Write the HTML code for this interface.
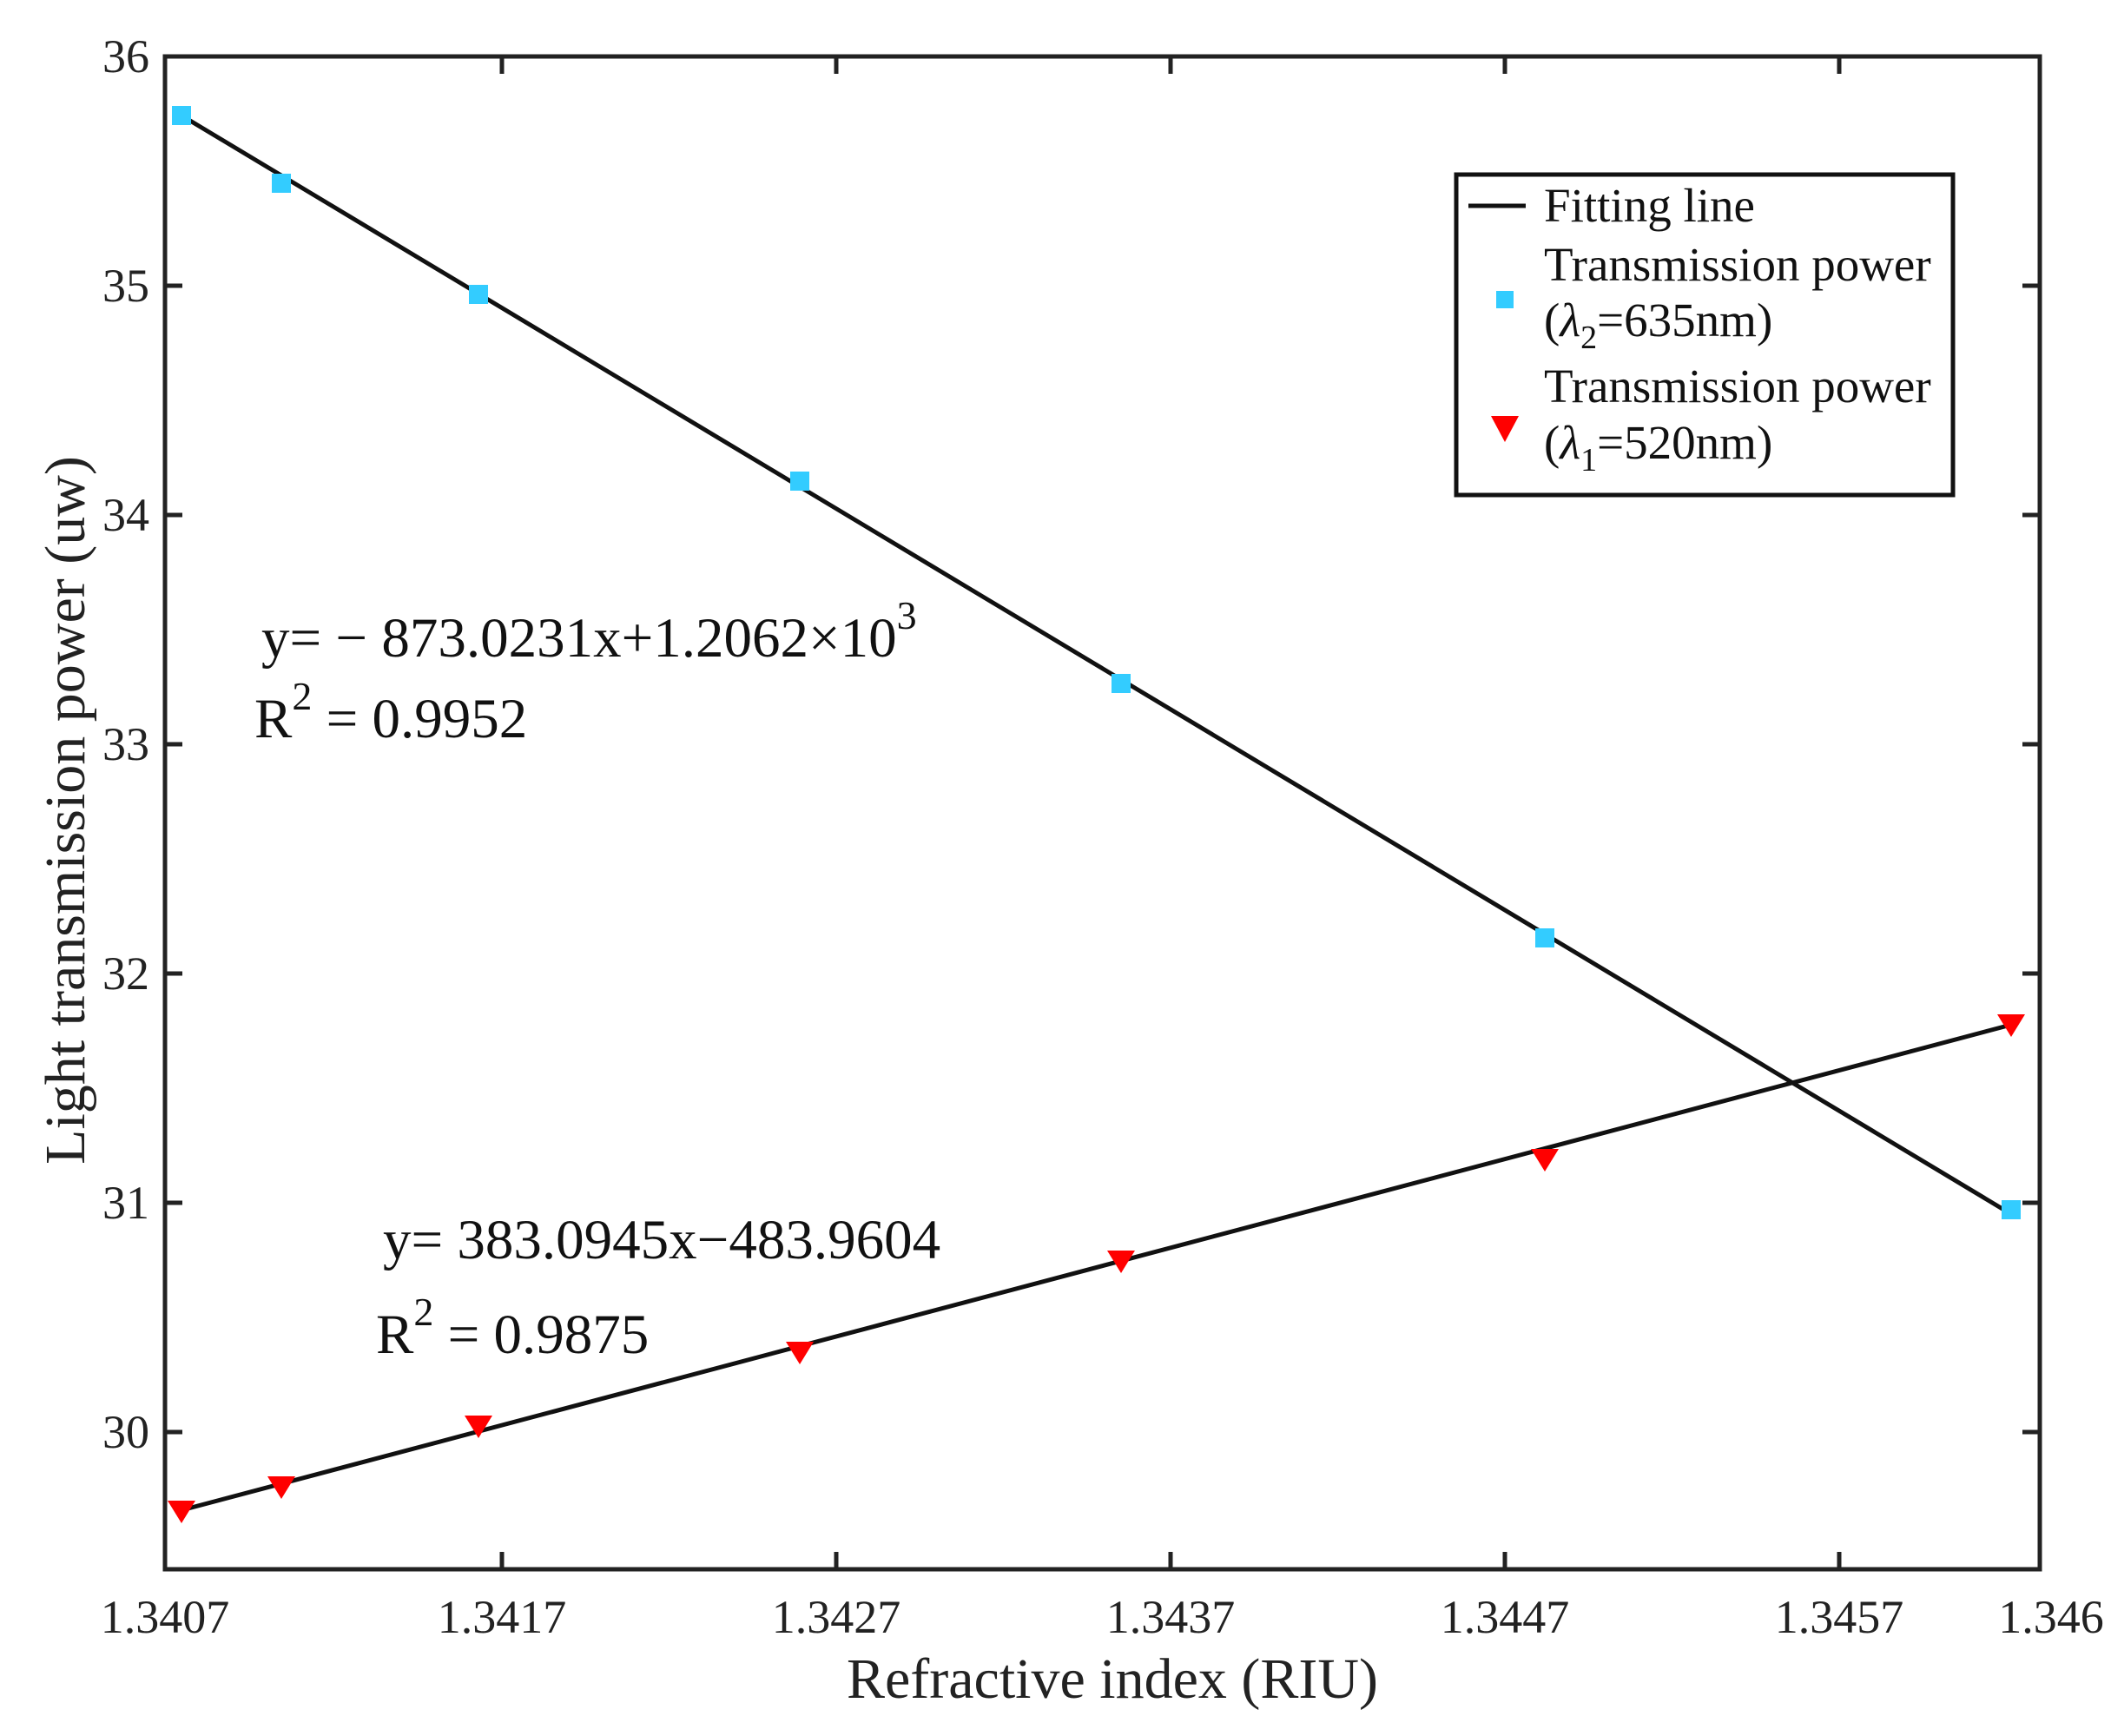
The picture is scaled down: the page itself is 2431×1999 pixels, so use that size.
<!DOCTYPE html>
<html><head><meta charset="utf-8"><style>
html,body{margin:0;padding:0;background:#fff;}
svg{display:block;font-family:"Liberation Serif",serif;}
</style></head><body>
<svg width="2431" height="1999" viewBox="0 0 2431 1999" xmlns="http://www.w3.org/2000/svg">
<rect width="2431" height="1999" fill="#fff"/>
<g stroke="#222" stroke-width="5" fill="none">
<rect x="190" y="65" width="2159" height="1742"/>
<path d="M578 1807v-20M963 1807v-20M1348 1807v-20M1733 1807v-20M2118 1807v-20
M578 65v20M963 65v20M1348 65v20M1733 65v20M2118 65v20"/>
<path d="M190 329h20M190 593h20M190 857h20M190 1121h20M190 1385h20M190 1649h20
M2349 329h-20M2349 593h-20M2349 857h-20M2349 1121h-20M2349 1385h-20M2349 1649h-20"/>
</g>
<g font-size="54" fill="#222" text-anchor="end">
<text x="172" y="83">36</text><text x="172" y="347">35</text><text x="172" y="611">34</text>
<text x="172" y="875">33</text><text x="172" y="1139">32</text><text x="172" y="1403">31</text>
<text x="172" y="1667">30</text>
</g>
<g font-size="54" fill="#222" text-anchor="middle">
<text x="190" y="1880">1.3407</text><text x="578" y="1880">1.3417</text><text x="963" y="1880">1.3427</text>
<text x="1348" y="1880">1.3437</text><text x="1733" y="1880">1.3447</text><text x="2118" y="1880">1.3457</text>
<text x="2362" y="1880">1.346</text>
</g>
<text x="1281" y="1955" font-size="66" text-anchor="middle" fill="#222">Refractive index (RIU)</text>
<text transform="translate(97,933) rotate(-90)" font-size="66" text-anchor="middle" fill="#222">Light transmission power (uw)</text>
<line x1="209" y1="133" x2="2316" y2="1398" stroke="#111" stroke-width="5"/>
<line x1="209" y1="1739" x2="2316" y2="1180" stroke="#111" stroke-width="5"/>
<g fill="#33ccff">
<rect x="198" y="122" width="22" height="22"/><rect x="313" y="200" width="22" height="22"/>
<rect x="540" y="328" width="22" height="22"/><rect x="910" y="543" width="22" height="22"/>
<rect x="1280" y="776" width="22" height="22"/><rect x="1768" y="1069" width="22" height="22"/>
<rect x="2305" y="1382" width="22" height="22"/>
</g>
<g fill="#ff0000">
<path d="M193 1728h32l-16 26z"/><path d="M308 1700h32l-16 26z"/><path d="M535 1630h32l-16 26z"/>
<path d="M905 1545h32l-16 26z"/><path d="M1275 1440h32l-16 26z"/><path d="M1763 1323h32l-16 26z"/>
<path d="M2300 1168h32l-16 26z"/>
</g>
<rect x="1677" y="201" width="572" height="369" fill="#fff" stroke="#111" stroke-width="5"/>
<line x1="1691" y1="237" x2="1757" y2="237" stroke="#111" stroke-width="5"/>
<rect x="1723" y="335" width="20" height="20" fill="#33ccff"/>
<path d="M1717 479h32l-16 30z" fill="#ff0000"/>
<g font-size="55" fill="#111">
<text x="1778" y="255">Fitting line</text>
<text x="1778" y="323">Transmission power</text>
<text x="1778" y="387">(<tspan font-style="italic">λ</tspan><tspan font-size="38" dy="14">2</tspan><tspan dy="-14">=635nm)</tspan></text>
<text x="1778" y="463">Transmission power</text>
<text x="1778" y="528">(<tspan font-style="italic">λ</tspan><tspan font-size="38" dy="14">1</tspan><tspan dy="-14">=520nm)</tspan></text>
</g>
<g font-size="65" fill="#111">
<text x="301" y="756">y= − 873.0231x+1.2062×10<tspan font-size="46" dy="-32">3</tspan></text>
<text x="293" y="849">R<tspan font-size="46" dy="-32">2</tspan><tspan dy="32">  = 0.9952</tspan></text>
<text x="441" y="1449">y= 383.0945x−483.9604</text>
<text x="433" y="1558">R<tspan font-size="46" dy="-32">2</tspan><tspan dy="32"> = 0.9875</tspan></text>
</g>
</svg>
</body></html>
